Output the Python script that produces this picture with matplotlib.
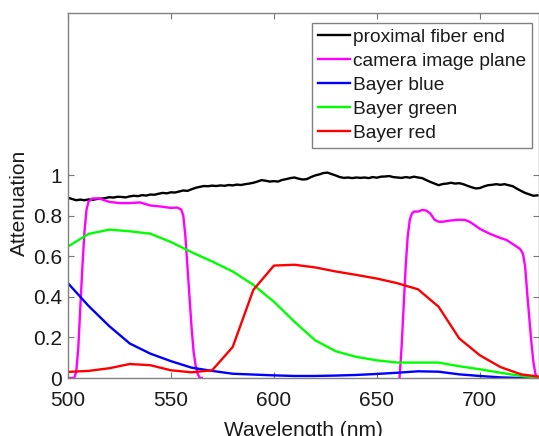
import numpy as np
import matplotlib
matplotlib.use("Agg")
import matplotlib.pyplot as plt

plt.rcParams['font.family'] = ['Liberation Sans', 'DejaVu Sans']

# proximal fiber end (measured, noisy)
wl_fiber = [500, 502, 504, 506, 508, 510, 512, 514, 516, 518, 520, 522, 524, 526, 528,
            530, 532, 534, 536, 538, 540, 542, 544, 546, 548, 550, 552, 554, 556, 558,
            560, 562, 564, 566, 568, 570, 572, 574, 576, 578, 580, 582, 584, 586, 588,
            590, 592, 594, 596, 598, 600, 602, 604, 606, 608, 610, 612, 614, 616, 618,
            620, 622, 624, 626, 628, 630, 632, 634, 636, 638, 640, 642, 644, 646, 648,
            650, 652, 654, 656, 658, 660, 662, 664, 666, 668, 670, 672, 674, 676, 678,
            680, 682, 684, 686, 688, 690, 692, 694, 696, 698, 700, 702, 704, 706, 708,
            710, 712, 714, 716, 718, 720, 722, 724, 726, 728]
fiber = [0.888, 0.882, 0.876, 0.879, 0.876, 0.880, 0.878, 0.882, 0.884, 0.886, 0.891, 0.889,
         0.893, 0.892, 0.890, 0.895, 0.898, 0.896, 0.901, 0.899, 0.904, 0.903, 0.908, 0.912,
         0.910, 0.915, 0.914, 0.919, 0.924, 0.922, 0.930, 0.937, 0.942, 0.946, 0.945, 0.948,
         0.946, 0.949, 0.947, 0.951, 0.949, 0.953, 0.951, 0.955, 0.958, 0.962, 0.968, 0.975,
         0.972, 0.968, 0.970, 0.968, 0.976, 0.980, 0.985, 0.988, 0.982, 0.978, 0.980, 0.990,
         0.998, 1.003, 1.010, 1.012, 1.005, 0.998, 0.990, 0.986, 0.988, 0.985, 0.988, 0.986,
         0.988, 0.985, 0.990, 0.987, 0.992, 0.993, 0.995, 0.990, 0.988, 0.986, 0.990, 0.987,
         0.992, 0.988, 0.985, 0.975, 0.966, 0.958, 0.950, 0.956, 0.958, 0.962, 0.958, 0.960,
         0.955, 0.947, 0.940, 0.934, 0.936, 0.944, 0.950, 0.952, 0.955, 0.952, 0.955, 0.950,
         0.945, 0.933, 0.922, 0.912, 0.905, 0.898, 0.900]

# camera image plane (two pass bands, gap where it falls below zero)
wl_cam = [501, 503, 504, 505, 506, 507, 508, 509, 510, 512, 515, 520, 525, 530, 535, 540,
          545, 550, 553, 555, 556, 557, 558, 559, 560, 561, 562, 563, 564, 565,
          600,
          661, 662, 663, 664, 665, 666, 667, 668, 670, 672, 674, 676, 678, 680, 682, 685,
          690, 693, 695, 698, 700, 705, 710, 713, 716, 719, 720, 721, 722, 723, 724, 725,
          726, 727, 728]
cam = [0.0, 0.0, 0.03, 0.15, 0.35, 0.55, 0.72, 0.83, 0.87, 0.885, 0.885, 0.868, 0.862,
       0.862, 0.865, 0.850, 0.845, 0.838, 0.840, 0.830, 0.800, 0.700, 0.550, 0.400, 0.250,
       0.130, 0.060, 0.020, 0.0, 0.0,
       np.nan,
       0.0, 0.15, 0.35, 0.55, 0.70, 0.78, 0.81, 0.82, 0.82, 0.828, 0.825, 0.81, 0.78, 0.77,
       0.77, 0.775, 0.78, 0.778, 0.77, 0.75, 0.735, 0.71, 0.69, 0.68, 0.66, 0.64, 0.63,
       0.61, 0.55, 0.42, 0.30, 0.18, 0.08, 0.02, 0.0]

# Bayer filter curves, 10 nm steps
wl_bayer = [500, 510, 520, 530, 540, 550, 560, 570, 580, 590, 600, 610, 620, 630, 640,
            650, 660, 670, 680, 690, 700, 710, 720, 730]
blue = [0.467, 0.355, 0.256, 0.170, 0.120, 0.083, 0.051, 0.035, 0.021, 0.017, 0.013, 0.010,
        0.010, 0.012, 0.015, 0.020, 0.026, 0.033, 0.031, 0.018, 0.010, 0.003, 0.0, 0.0]
green = [0.648, 0.710, 0.731, 0.723, 0.711, 0.670, 0.620, 0.574, 0.525, 0.459, 0.376, 0.277,
         0.186, 0.132, 0.104, 0.087, 0.076, 0.076, 0.076, 0.058, 0.043, 0.026, 0.010, 0.0]
red = [0.030, 0.035, 0.048, 0.069, 0.063, 0.038, 0.028, 0.038, 0.153, 0.434, 0.554, 0.558,
       0.545, 0.525, 0.508, 0.490, 0.467, 0.437, 0.351, 0.195, 0.112, 0.054, 0.018, 0.005]

fig = plt.figure(figsize=(5.39, 4.36), dpi=100)
ax = fig.add_axes([68 / 539, 58 / 436, 470.5 / 539, 365.3 / 436])

lw = 1.7
ax.plot(wl_fiber, fiber, color='black', lw=lw, label='proximal fiber end')
ax.plot(wl_cam, cam, color='#ff00ff', lw=lw, label='camera image plane')
ax.plot(wl_bayer, blue, color='#0000ff', lw=lw, label='Bayer blue')
ax.plot(wl_bayer, green, color='#00ff00', lw=lw, label='Bayer green')
ax.plot(wl_bayer, red, color='#ff0000', lw=lw, label='Bayer red')

ax.set_xlim(500, 728.5)
ax.set_ylim(0, 1.8)
ax.set_xticks([500, 550, 600, 650, 700])
ax.set_yticks([0, 0.2, 0.4, 0.6, 0.8, 1])
ax.set_yticklabels(['0', '0.2', '0.4', '0.6', '0.8', '1'])
ax.tick_params(direction='in', top=True, right=True, length=4, width=0.8,
               color='#777777', labelsize=15, labelcolor='#1a1a1a')
ax.tick_params(axis='x', pad=9.5)
ax.tick_params(axis='y', pad=4.5)
for s in ax.spines.values():
    s.set_color('#808080')
    s.set_linewidth(1.0)

ax.set_xlabel('Wavelength (nm)', fontsize=15, color='#1a1a1a')
ax.set_ylabel('Attenuation', fontsize=15, color='#1a1a1a')
ax.xaxis.set_label_coords(0.5, -0.117)
ax.yaxis.set_label_coords(-0.083, 0.48)

leg = ax.legend(loc='upper right', bbox_to_anchor=(532 / 539, 1 - 23 / 436),
                bbox_transform=fig.transFigure, borderaxespad=0, fontsize=13.8,
                fancybox=False, framealpha=1, edgecolor='#808080',
                handlelength=1.7, handletextpad=0.15, labelspacing=0.34,
                borderpad=0.3)
leg.get_frame().set_linewidth(1.0)
for t in leg.get_texts():
    t.set_color('#1a1a1a')

fig.savefig('out.png', dpi=100)
